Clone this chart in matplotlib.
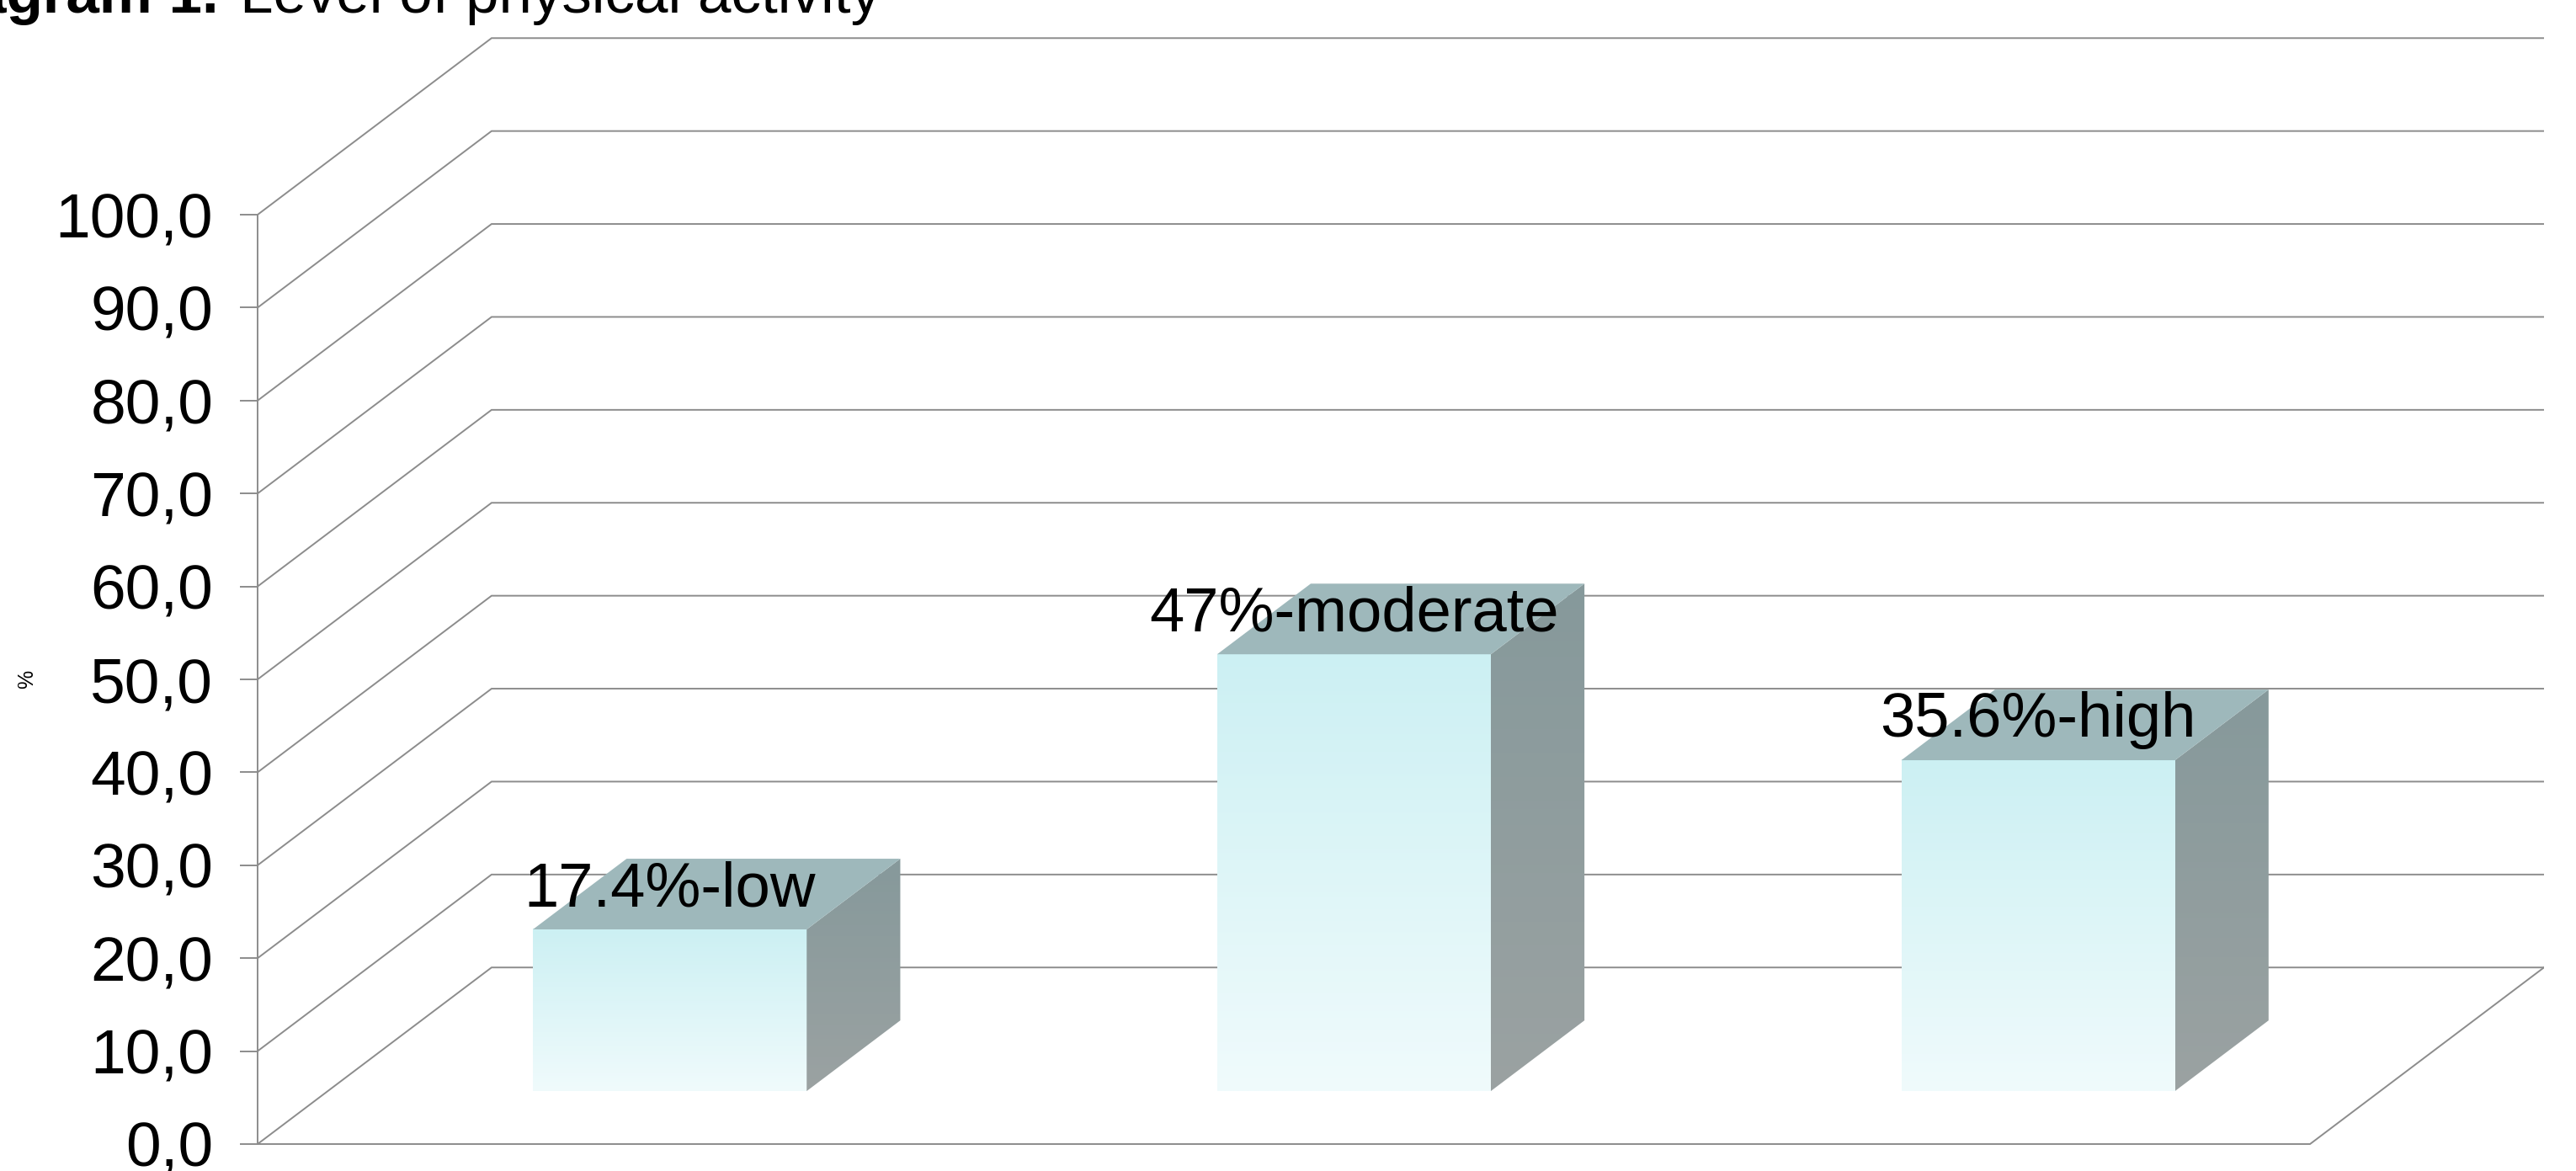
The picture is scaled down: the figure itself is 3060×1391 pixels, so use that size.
import matplotlib
matplotlib.use('Agg')
import matplotlib.pyplot as plt
import numpy as np
from matplotlib.patches import Polygon
from matplotlib.colors import LinearSegmentedColormap
from matplotlib.ticker import FuncFormatter

plt.rcParams['font.family'] = ['Liberation Sans', 'DejaVu Sans']

categories = ['low', 'moderate', 'high']
values = [17.4, 47.0, 35.6]
labels = ['17.4%-low', '47%-moderate', '35.6%-high']
yticks = [0, 10, 20, 30, 40, 50, 60, 70, 80, 90, 100]

# fake 3d depth (data units) and where the bars sit inside it
DX = 0.342
DY = 19.0
z0, z1 = 0.3, 0.7
w = 0.4

grid_col = '#8c8c8c'
front_cmap = LinearSegmentedColormap.from_list('front', ['#f0fbfc', '#ccf0f3'])
side_cmap = LinearSegmentedColormap.from_list('side', ['#9ba2a2', '#86999b'])

fig = plt.figure(figsize=(30.6, 13.91), dpi=100)
ax = fig.add_axes([306 / 3060, 0, 2716 / 3060, 1])

n = len(categories)
# back wall + side wall grid
for v in yticks:
    ax.plot([0, DX, n + DX], [v, v + DY, v + DY], color=grid_col, lw=1.4,
            zorder=1, solid_joinstyle='miter')
# floor
ax.plot([0, n, n + DX], [0, 0, DY], color=grid_col, lw=1.4, zorder=1,
        solid_joinstyle='miter')

ddx = (z1 - z0) * DX
ddy = (z1 - z0) * DY
grad = np.linspace(0, 1, 256).reshape(-1, 1)

for i, (v, lab) in enumerate(zip(values, labels)):
    xl = i + (1 - w) / 2 + z0 * DX
    xr = xl + w
    yb = z0 * DY
    yt = yb + v

    # front face
    ax.imshow(grad, extent=[xl, xr, yb, yt], origin='lower', cmap=front_cmap,
              aspect='auto', interpolation='bilinear', zorder=3)

    # right side face
    side = Polygon([(xr, yb), (xr + ddx, yb + ddy), (xr + ddx, yt + ddy), (xr, yt)],
                   closed=True, facecolor='none', edgecolor='none', zorder=3)
    ax.add_patch(side)
    im = ax.imshow(grad, extent=[xr, xr + ddx, yb, yt + ddy], origin='lower',
                   cmap=side_cmap, aspect='auto', interpolation='bilinear', zorder=3)
    im.set_clip_path(side)

    # top face
    top = Polygon([(xl, yt), (xr, yt), (xr + ddx, yt + ddy), (xl + ddx, yt + ddy)],
                  closed=True, facecolor='#9eb8bb', edgecolor='none', zorder=3)
    ax.add_patch(top)

    ax.text((xl + xr) / 2, yt + 2.5, lab, ha='center', va='baseline',
            fontsize=53.5, zorder=5)

ax.set_xlim(0, n + DX)
ax.set_ylim(-2.9, 123.1)

for s in ['top', 'right', 'bottom']:
    ax.spines[s].set_visible(False)
ax.spines['left'].set_bounds(0, 100)
ax.spines['left'].set_color(grid_col)
ax.spines['left'].set_linewidth(1.4)
ax.spines['left'].set_zorder(2)

ax.set_xticks([])
ax.set_yticks(yticks)
ax.yaxis.set_major_formatter(FuncFormatter(lambda v, p: f'{v:.1f}'.replace('.', ',')))
ax.tick_params(axis='y', length=15, width=1.4, color=grid_col, pad=23, labelsize=54)

fig.text(260 / 3060, 1 - 15 / 1391, 'Diagram 1.', ha='right', va='baseline',
         fontsize=51, fontweight='bold')
fig.text(285 / 3060, 1 - 15 / 1391, 'Level of physical activity', ha='left',
         va='baseline', fontsize=51)
fig.text(31.7 / 3060, 1 - 806.7 / 1391, '%', rotation=90, ha='center', va='center',
         fontsize=18)

fig.savefig('out.png', dpi=100)
